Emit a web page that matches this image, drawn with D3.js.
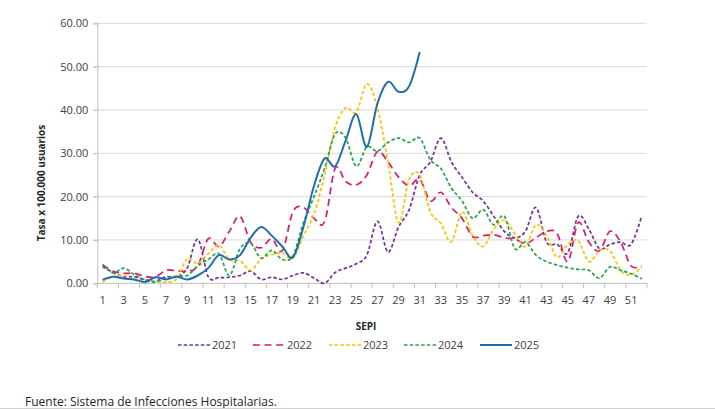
<!DOCTYPE html>
<html>
<head>
<meta charset="utf-8">
<script src="https://cdn.jsdelivr.net/npm/d3@7"></script>
<style>
  body { margin: 0; background: #fff; }
  svg { display: block; font-family: "Open Sans", sans-serif; }
</style>
</head>
<body>
<div id="root"></div>
<script>
// semanas epidemiologicas
const weeks = d3.range(1, 53);
const yTicks = [0, 10, 20, 30, 40, 50, 60];

const s2021 = [3.8, 2.5, 1.5, 1.5, 0.8, 0.5, 1.5, 1.5, 3.5, 10.2, 1.5, 1.3, 1.4, 1.8, 2.8, 0.9, 1.4, 0.9, 1.8, 2.4,
  1.2, 0, 2.5, 3.5, 4.5, 6.5, 14.3, 7.2, 13, 17, 25, 28, 33.5, 28, 24.5, 21, 19, 15.5, 12, 10.5,
  12, 17.5, 9.5, 9, 7, 15.5, 12.5, 8, 9, 9.5, 9, 15.5];
const s2022 = [4.3, 2.8, 2.3, 2.3, 1.6, 1.5, 3.0, 2.9, 2.8, 4.0, 10.3, 8.5, 12, 15.5, 9.5, 8.2, 10.3, 7.5, 16.5, 17.5,
  15, 14.2, 26.5, 23.5, 22.7, 25, 30.4, 28, 24.5, 22.5, 24, 19, 21, 17.5, 15, 10.8, 11, 11.2, 10.5, 10.2,
  9.2, 10.5, 12, 11.5, 5, 14, 9.5, 7.5, 12, 9.5, 4, 4];
const s2023 = [0.3, 1.5, 1.8, 0.8, 0.3, 0.5, 0.3, 1.0, 5.7, 4.6, 6.8, 8.8, 5.5, 5.2, 3.0, 5.6, 6.6, 7.0, 5.8, 11,
  16, 25, 36, 40.5, 39.5, 46, 40.5, 28, 14, 24, 25, 16.5, 13.8, 9.6, 16.5, 11, 8.5, 12.5, 14.5, 11.5,
  8.5, 13.5, 11, 6, 9, 9.8, 5, 7.5, 7.5, 3, 2, 3.8];
const s2024 = [4.3, 2.4, 3.5, 2.0, 0.8, 0.3, 1.2, 1.6, 1.8, 4.0, 5.5, 6.8, 1.8, 8.0, 9.2, 5.8, 7.6, 5.5, 6.3, 14,
  20, 26.5, 34.5, 33.5, 27, 31.5, 30.5, 32.5, 33.5, 32.5, 33.5, 28.5, 26.5, 22, 19, 15, 17, 13.5, 15.5, 8,
  9.5, 6.5, 5, 4.2, 3.6, 3.2, 3, 1.2, 3.8, 3, 2.2, 1];
const s2025 = [0.8, 1.5, 1.1, 0.9, 0.3, 1.4, 0.9, 1.5, 0.9, 1.8, 3.5, 6.5, 5.5, 6.5, 10.5, 13, 11, 8.5, 6, 13,
  22.5, 28.8, 27, 33, 39, 31.5, 41.5, 46.5, 44.2, 45.5, 53.4];

const series = [
  { name: "2021", values: s2021, color: "#7030A0", dash: "3.5,2.2", width: 1.7 },
  { name: "2022", values: s2022, color: "#E0186C", dash: "7,4.5", width: 1.7 },
  { name: "2023", values: s2023, color: "#FFC000", dash: "3.5,2.2", width: 1.7 },
  { name: "2024", values: s2024, color: "#20A64A", dash: "3.5,2.2", width: 1.7 },
  { name: "2025", values: s2025, color: "#1F6EB2", dash: null, width: 2 }
];

const W = 715, H = 409;
const svg = d3.select("#root").append("svg")
  .attr("width", W).attr("height", H);

const x = d3.scaleBand().domain(weeks).range([97.3, 647]);
const y = d3.scaleLinear().domain([0, 60]).range([283.3, 23.3]);
const cx = w => x(w) + x.bandwidth() / 2;

// grid
svg.append("g").selectAll("line")
  .data(yTicks.filter(t => t > 0))
  .enter().append("line")
  .attr("x1", 93).attr("x2", 647)
  .attr("y1", d => y(d)).attr("y2", d => y(d))
  .attr("stroke", "#d9d9d9").attr("stroke-width", 1);

// y axis
const yAxis = svg.append("g")
  .attr("transform", "translate(97.3,0)")
  .call(d3.axisLeft(y).tickValues(yTicks).tickSize(4).tickFormat(d3.format(".2f")));
yAxis.select(".domain").attr("stroke", "#bfbfbf");
yAxis.selectAll(".tick line").attr("stroke", "#bfbfbf");
yAxis.selectAll("text").attr("font-size", 11).attr("fill", "#404040")
  .attr("font-family", "Open Sans").attr("dx", "-2");

// x axis
const xg = svg.append("g").attr("transform", `translate(0,${y(0)})`);
xg.append("line").attr("x1", 97.3).attr("x2", 647).attr("stroke", "#bfbfbf");
xg.selectAll(".tk")
  .data(weeks.filter(w => w % 2 === 1).concat([53]))
  .enter().append("line")
  .attr("x1", w => w === 53 ? 647 : x(w)).attr("x2", w => w === 53 ? 647 : x(w))
  .attr("y1", 0).attr("y2", 5).attr("stroke", "#bfbfbf");
xg.selectAll("text")
  .data(weeks.filter(w => w % 2 === 1))
  .enter().append("text")
  .attr("x", cx).attr("y", 21)
  .attr("text-anchor", "middle")
  .attr("font-size", 11).attr("fill", "#404040")
  .text(d => d);

// lines
const line = d3.line()
  .x((d, i) => cx(weeks[i]))
  .y(d => y(d))
  .curve(d3.curveCardinal.tension(0));

svg.append("g").selectAll("path")
  .data(series)
  .enter().append("path")
  .attr("d", d => line(d.values))
  .attr("fill", "none")
  .attr("stroke", d => d.color)
  .attr("stroke-width", d => d.width)
  .attr("stroke-dasharray", d => d.dash);

// titulos
svg.append("text")
  .attr("transform", "translate(45,183) rotate(-90)")
  .attr("text-anchor", "middle")
  .attr("font-size", 10).attr("font-weight", "bold").attr("fill", "#262626")
  .text("Tasa x 100.000 usuarios");

svg.append("text")
  .attr("x", 366).attr("y", 330)
  .attr("text-anchor", "middle")
  .attr("font-size", 10).attr("font-weight", "bold").attr("fill", "#262626")
  .text("SEPI");

// leyenda
const legX = [178, 253, 329, 404, 480];
const leg = svg.append("g").selectAll("g")
  .data(series)
  .enter().append("g")
  .attr("transform", (d, i) => `translate(${legX[i]},345)`);
leg.append("line")
  .attr("x1", 0).attr("x2", 32)
  .attr("stroke", d => d.color)
  .attr("stroke-width", d => d.width)
  .attr("stroke-dasharray", d => d.dash);
leg.append("text")
  .attr("x", 34).attr("y", 4)
  .attr("font-size", 11).attr("fill", "#404040")
  .text(d => d.name);

svg.append("text")
  .attr("x", 25).attr("y", 406)
  .attr("font-size", 12).attr("fill", "#262626")
  .text("Fuente: Sistema de Infecciones Hospitalarias.");

svg.append("line")
  .attr("x1", 0).attr("x2", W).attr("y1", 408.5).attr("y2", 408.5)
  .attr("stroke", "#d0d0d0");
</script>
</body>
</html>
